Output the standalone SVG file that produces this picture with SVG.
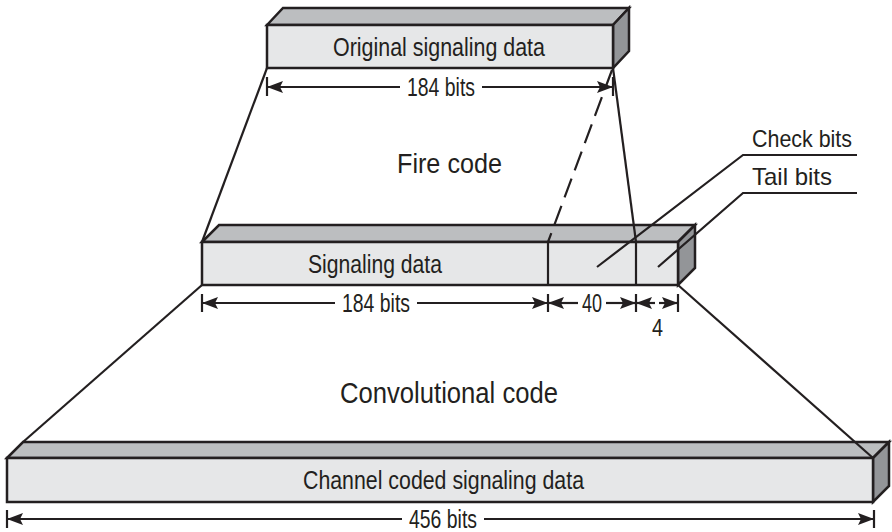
<svg xmlns="http://www.w3.org/2000/svg" width="892" height="532" viewBox="0 0 892 532">
<style>
.front{fill:#e6e7e8;stroke:#231f20;stroke-width:2.5;stroke-linejoin:miter}
.top{fill:#bcbec0;stroke:#231f20;stroke-width:2.5}
.side{fill:#939598;stroke:#231f20;stroke-width:2.5}
.ln{fill:none;stroke:#231f20;stroke-width:2.2}
.dim{fill:none;stroke:#231f20;stroke-width:2.2}
.tick{stroke:#231f20;stroke-width:2.2}
.lbl{font-family:"Liberation Sans Narrow","Liberation Sans",Arial,sans-serif;fill:#231f20}
</style>
<defs>
<marker id="ah" viewBox="0 0 16 12" refX="16" refY="6" markerWidth="16" markerHeight="12" markerUnits="userSpaceOnUse" orient="auto-start-reverse">
<path d="M0,0 L16,6 L0,12 L3,6 z" fill="#231f20"/>
</marker>
</defs>

<g id="box-original">
<polygon class="top" points="267,25 283,8 629,8 613,25"/>
<polygon class="side" points="613,25 629,8 629,51 613,68"/>
<rect class="front" x="267" y="25" width="346" height="43"/>
<text class="lbl" x="333" y="56" font-size="26" textLength="212" lengthAdjust="spacingAndGlyphs">Original signaling data</text>
</g>

<g id="dim-top">
<line class="tick" x1="267" y1="77" x2="267" y2="96"/>
<line class="tick" x1="613" y1="77" x2="613" y2="96"/>
<line class="dim" x1="400" y1="87" x2="267" y2="87" marker-end="url(#ah)"/>
<line class="dim" x1="482" y1="87" x2="613" y2="87" marker-end="url(#ah)"/>
<text class="lbl" x="407" y="96" font-size="25" textLength="68" lengthAdjust="spacingAndGlyphs">184 bits</text>
</g>

<g id="label-fire">
<text class="lbl" x="397" y="173" font-size="28" textLength="105" lengthAdjust="spacingAndGlyphs">Fire code</text>
</g>

<g id="box-signaling">
<polygon class="top" points="202,242 219,225 695,225 678,242"/>
<polygon class="side" points="678,242 695,225 695,268 678,285"/>
<rect class="front" x="202" y="242" width="476" height="43"/>
<line class="tick" x1="548" y1="242" x2="548" y2="285"/>
<line class="tick" x1="636" y1="242" x2="636" y2="285"/>
<text class="lbl" x="308" y="273" font-size="26" textLength="134" lengthAdjust="spacingAndGlyphs">Signaling data</text>
</g>

<g id="box-channel">
<polygon class="top" points="7,458 23,442 889,442 873,458"/>
<polygon class="side" points="873,458 889,442 889,486 873,502"/>
<rect class="front" x="7" y="458" width="866" height="44"/>
<text class="lbl" x="303" y="489" font-size="26" textLength="281" lengthAdjust="spacingAndGlyphs">Channel coded signaling data</text>
</g>

<g id="connectors">
<line class="ln" x1="267" y1="68" x2="202" y2="242"/>
<line class="ln" x1="613" y1="68" x2="636" y2="242"/>
<line class="ln" x1="612" y1="70" x2="548" y2="242" stroke-dasharray="20 9"/>
<line class="ln" x1="202" y1="285" x2="23" y2="442"/>
<line class="ln" x1="678" y1="285" x2="873" y2="458"/>
</g>

<g id="leader-check">
<polyline class="ln" points="597,267 743,155 857,155"/>
<text class="lbl" x="752" y="147" font-size="24" textLength="100" lengthAdjust="spacingAndGlyphs">Check bits</text>
</g>
<g id="leader-tail">
<polyline class="ln" points="658,267 743,193 857,193"/>
<text class="lbl" x="752" y="185" font-size="24" textLength="80" lengthAdjust="spacingAndGlyphs">Tail bits</text>
</g>

<g id="dim-middle">
<line class="tick" x1="202" y1="294" x2="202" y2="312"/>
<line class="tick" x1="548" y1="294" x2="548" y2="312"/>
<line class="tick" x1="636" y1="294" x2="636" y2="312"/>
<line class="tick" x1="678" y1="294" x2="678" y2="312"/>
<line class="dim" x1="335" y1="303" x2="202" y2="303" marker-end="url(#ah)"/>
<line class="dim" x1="417" y1="303" x2="548" y2="303" marker-end="url(#ah)"/>
<line class="dim" x1="578" y1="303" x2="548" y2="303" marker-end="url(#ah)"/>
<line class="dim" x1="606" y1="303" x2="636" y2="303" marker-end="url(#ah)"/>
<line class="dim" x1="655" y1="303" x2="636" y2="303" marker-end="url(#ah)"/>
<line class="dim" x1="659" y1="303" x2="678" y2="303" marker-end="url(#ah)"/>
<text class="lbl" x="342" y="312" font-size="25" textLength="68" lengthAdjust="spacingAndGlyphs">184 bits</text>
<text class="lbl" x="582" y="312" font-size="25" textLength="20" lengthAdjust="spacingAndGlyphs">40</text>
<text class="lbl" x="652" y="336" font-size="23" textLength="11" lengthAdjust="spacingAndGlyphs">4</text>
</g>

<g id="label-conv">
<text class="lbl" x="340" y="403" font-size="29" textLength="218" lengthAdjust="spacingAndGlyphs">Convolutional code</text>
</g>

<g id="dim-bottom">
<line class="tick" x1="7" y1="510" x2="7" y2="528"/>
<line class="tick" x1="874" y1="510" x2="874" y2="528"/>
<line class="dim" x1="402" y1="519" x2="7" y2="519" marker-end="url(#ah)"/>
<line class="dim" x1="484" y1="519" x2="874" y2="519" marker-end="url(#ah)"/>
<text class="lbl" x="409" y="528" font-size="25" textLength="68" lengthAdjust="spacingAndGlyphs">456 bits</text>
</g>
</svg>
